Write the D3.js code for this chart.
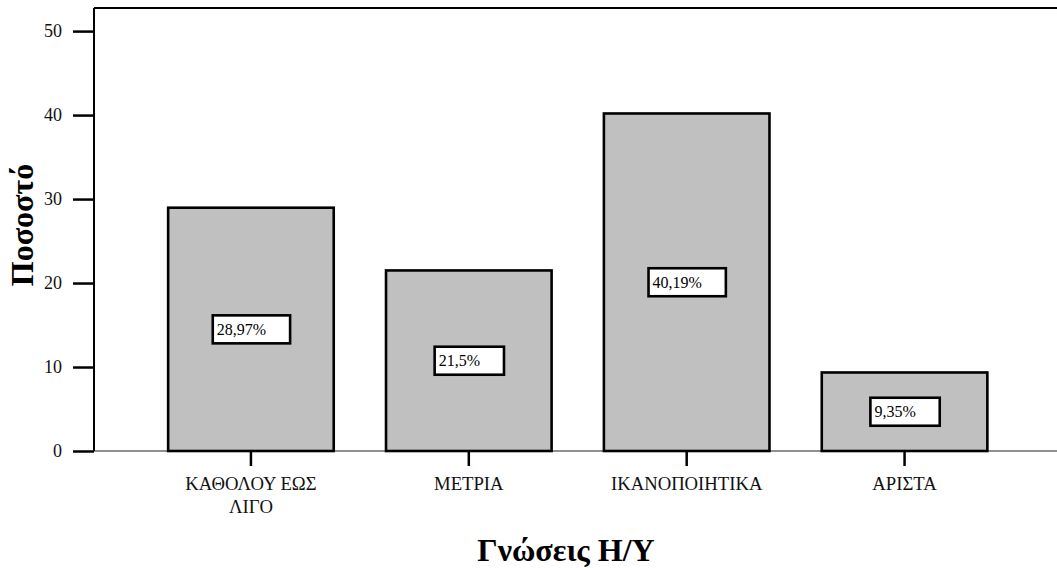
<!DOCTYPE html>
<html>
<head>
<meta charset="utf-8">
<script src="https://cdn.jsdelivr.net/npm/d3@7"></script>
<style>
  html, body { margin: 0; padding: 0; background: #fff; }
  svg text { font-family: "Liberation Serif", "Tinos", "Times New Roman", "DejaVu Serif", serif !important; }
</style>
</head>
<body>
<svg id="chart" width="1057" height="568"></svg>
<script>
// Knowledge of computers: share of respondents per level
const categories = ["ΚΑΘΟΛΟΥ ΕΩΣ ΛΙΓΟ", "ΜΕΤΡΙΑ", "ΙΚΑΝΟΠΟΙΗΤΙΚΑ", "ΑΡΙΣΤΑ"];
const categoryLines = [["ΚΑΘΟΛΟΥ ΕΩΣ", "ΛΙΓΟ"], ["ΜΕΤΡΙΑ"], ["ΙΚΑΝΟΠΟΙΗΤΙΚΑ"], ["ΑΡΙΣΤΑ"]];
const percents = [28.97, 21.5, 40.19, 9.35];
const valueLabels = ["28,97%", "21,5%", "40,19%", "9,35%"];
const yTicks = [0, 10, 20, 30, 40, 50];
const yTitle = "Ποσοστό";
const xTitle = "Γνώσεις Η/Υ";

const W = 1057, H = 568;
const frame = { left: 94, top: 8, bottom: 451, right: W };

const svg = d3.select("#chart");

const y = d3.scaleLinear().domain([0, 52.75]).range([frame.bottom, frame.top]);
const x = d3.scaleBand()
  .domain(categories)
  .range([142, 1013.5])
  .paddingInner(0.24)
  .paddingOuter(0.12);

// plot frame: top and left edges, open to the right
svg.append("line")
  .attr("x1", frame.left).attr("x2", frame.right)
  .attr("y1", frame.top).attr("y2", frame.top)
  .attr("stroke", "#000").attr("stroke-width", 2);

// baseline
svg.append("line")
  .attr("x1", frame.left).attr("x2", frame.right)
  .attr("y1", y(0)).attr("y2", y(0))
  .attr("stroke", "#222").attr("stroke-width", 1.2);

// y axis
const yAxis = svg.append("g")
  .attr("transform", `translate(${frame.left},0)`)
  .call(d3.axisLeft(y).tickValues(yTicks).tickFormat(d3.format("d"))
    .tickSize(21).tickSizeOuter(0).tickPadding(11));
yAxis.attr("font-family", null);
yAxis.select(".domain")
  .attr("d", `M0,${frame.top}V${frame.bottom}`)
  .attr("stroke", "#000").attr("stroke-width", 2);
yAxis.selectAll(".tick line").attr("stroke", "#000").attr("stroke-width", 2.5);
yAxis.selectAll(".tick text")
  .attr("font-size", 18).attr("fill", "#111");

// bars
svg.append("g").selectAll("rect")
  .data(percents)
  .join("rect")
  .attr("x", (d, i) => x(categories[i]))
  .attr("y", d => y(d))
  .attr("width", x.bandwidth())
  .attr("height", d => y(0) - y(d))
  .attr("fill", "#c0c0c0")
  .attr("stroke", "#000")
  .attr("stroke-width", 2.6);

// x axis ticks and category labels
const xAxis = svg.append("g")
  .attr("transform", `translate(0,${y(0)})`)
  .call(d3.axisBottom(x).tickSize(15).tickSizeOuter(0).tickFormat(""));
xAxis.attr("font-family", null);
xAxis.select(".domain").remove();
xAxis.selectAll(".tick line").attr("stroke", "#000").attr("stroke-width", 2.5);
xAxis.selectAll(".tick text").remove();
xAxis.selectAll(".tick").each(function(d, i) {
  const t = d3.select(this).append("text")
    .attr("text-anchor", "middle")
    .attr("font-size", 18.7)
    .attr("fill", "#111");
  categoryLines[i].forEach((line, k) => {
    t.append("tspan").attr("x", 0).attr("y", 38.5 + k * 23.5).text(line);
  });
});

// value boxes at half bar height
const labels = svg.append("g").selectAll("g")
  .data(percents)
  .join("g")
  .attr("transform", (d, i) => `translate(${x(categories[i]) + x.bandwidth() / 2 + 0.5},${y(d / 2)})`);
labels.each(function(d, i) {
  const g = d3.select(this);
  const rect = g.append("rect");
  const txt = g.append("text")
    .attr("font-size", 16)
    .attr("fill", "#000")
    .text(valueLabels[i]);
  const tw = txt.node().getComputedTextLength();
  const bw = tw + 28, bh = 28;
  rect.attr("x", -bw / 2).attr("y", -bh / 2)
    .attr("width", bw).attr("height", bh)
    .attr("fill", "#fff").attr("stroke", "#000").attr("stroke-width", 2.6);
  txt.attr("x", -bw / 2 + 4).attr("y", 5.5);
});

// axis titles
svg.append("text")
  .attr("transform", `translate(33,225) rotate(-90)`)
  .attr("text-anchor", "middle")
  .attr("font-weight", "bold")
  .attr("font-size", 32)
  .text(yTitle);

svg.append("text")
  .attr("x", 566).attr("y", 561)
  .attr("text-anchor", "middle")
  .attr("font-weight", "bold")
  .attr("font-size", 32)
  .text(xTitle);
</script>
</body>
</html>
